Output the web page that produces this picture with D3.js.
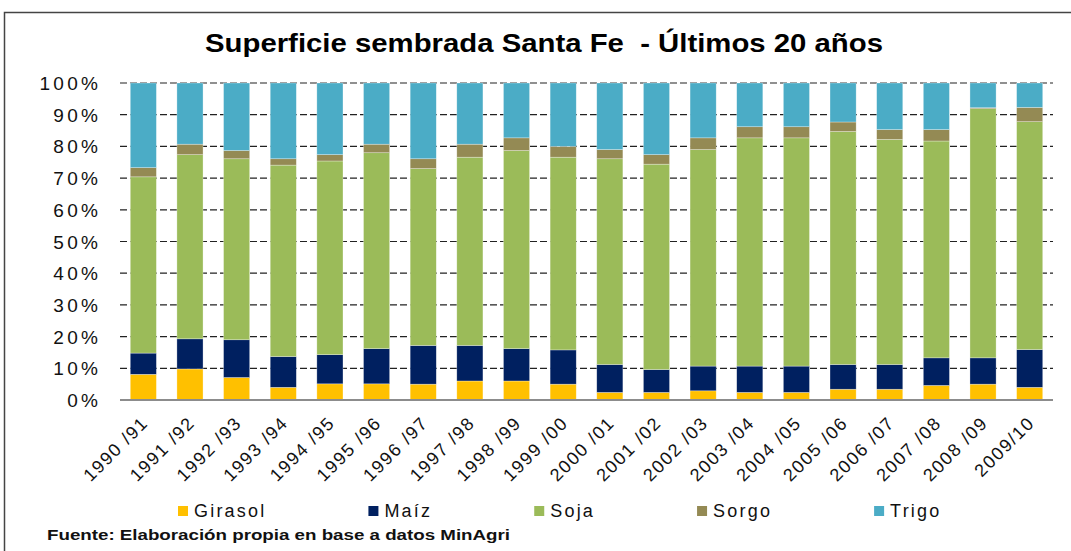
<!DOCTYPE html>
<html>
<head>
<meta charset="utf-8">
<script src="https://cdn.jsdelivr.net/npm/d3@7"></script>
<style>
  body { margin: 0; background: #fff; }
  svg { display: block; font-family: Arial, "Liberation Sans", sans-serif; }
</style>
</head>
<body>
<svg></svg>
<script>
// campaigns and crop shares (% of sown area)
let campaigns = ["1990 /91", "1991 /92", "1992 /93", "1993 /94", "1994 /95", "1995 /96", "1996 /97",
  "1997 /98", "1998 /99", "1999 /00", "2000 /01", "2001 /02", "2002 /03", "2003 /04", "2004 /05",
  "2005 /06", "2006 /07", "2007 /08", "2008 /09", "2009/10"];

let girasol = [8.1, 9.8, 7.1, 4.0, 5.1, 5.1, 5.0, 6.0, 6.0, 5.0, 2.4, 2.4, 2.9, 2.4, 2.4, 3.4, 3.4, 4.6, 5.0, 4.0];
let maiz = [6.7, 9.5, 11.9, 9.7, 9.2, 11.1, 12.2, 11.2, 10.2, 10.8, 8.8, 7.2, 7.8, 8.3, 8.3, 7.8, 7.8, 8.7, 8.3, 11.9];
let soja = [55.6, 58.1, 57.1, 60.4, 61.1, 61.8, 55.8, 59.4, 62.5, 60.8, 64.9, 64.8, 68.3, 72.0, 72.0, 73.5, 71.0, 68.4, 78.6, 71.9];
let sorgo = [2.9, 3.3, 2.6, 2.0, 2.0, 2.7, 3.1, 4.1, 4.0, 3.4, 2.9, 3.0, 3.7, 3.5, 3.5, 3.0, 3.1, 3.6, 0.3, 4.5];
let trigo = [26.7, 19.3, 21.3, 23.9, 22.6, 19.3, 23.9, 19.3, 17.3, 20.0, 21.0, 22.6, 17.3, 13.8, 13.8, 12.3, 14.7, 14.7, 7.8, 7.7];

let crops = ["Girasol", "Maíz", "Soja", "Sorgo", "Trigo"];
let yTicks = [0, 10, 20, 30, 40, 50, 60, 70, 80, 90, 100];

let colors = {
  "Girasol": "#FFC000",
  "Maíz": "#002060",
  "Soja": "#9BBB59",
  "Sorgo": "#948A54",
  "Trigo": "#4BACC6",
};

let W = 1071, H = 551;
let m = { left: 120, right: 1053, top: 83, bottom: 400 };

let svg = d3.select("svg").attr("width", W).attr("height", H);

// outer frame (runs off the right and bottom edges)
svg.append("rect")
  .attr("x", 4.5).attr("y", 12.5)
  .attr("width", W + 20).attr("height", H + 20)
  .attr("fill", "none")
  .attr("stroke", "#444")
  .attr("stroke-width", 1.5);

svg.append("text")
  .attr("x", 544).attr("y", 52)
  .attr("text-anchor", "middle")
  .attr("font-size", 25)
  .attr("font-weight", "bold")
  .attr("textLength", 678)
  .attr("lengthAdjust", "spacingAndGlyphs")
  .attr("fill", "#000")
  .text("Superficie sembrada Santa Fe\u00a0 - Últimos 20 años");

let table = campaigns.map((c, i) => ({
  campaign: c,
  "Girasol": girasol[i],
  "Maíz": maiz[i],
  "Soja": soja[i],
  "Sorgo": sorgo[i],
  "Trigo": trigo[i],
}));

let series = d3.stack().keys(crops)(table);

let x = d3.scaleBand()
  .domain(campaigns)
  .range([m.left, m.right])
  .paddingInner(0.44)
  .paddingOuter(0.22);

let y = d3.scaleLinear().domain([0, 100]).range([m.bottom, m.top]);

// dashed gridlines
svg.append("g")
  .selectAll("line")
  .data(yTicks.filter(d => d > 0))
  .join("line")
  .attr("x1", m.left).attr("x2", m.right)
  .attr("y1", d => y(d)).attr("y2", d => y(d))
  .attr("stroke", "#222")
  .attr("stroke-width", 1.2)
  .attr("stroke-dasharray", "7,3");

// bars
svg.append("g")
  .selectAll("g")
  .data(series)
  .join("g")
  .attr("fill", d => colors[d.key])
  .selectAll("rect")
  .data(d => d)
  .join("rect")
  .attr("x", d => x(d.data.campaign))
  .attr("width", x.bandwidth())
  .attr("y", d => y(d[1]))
  .attr("height", d => y(d[0]) - y(d[1]))
  .attr("stroke", "#fff")
  .attr("stroke-opacity", 0.5)
  .attr("stroke-width", 0.6);

// bottom axis line
svg.append("line")
  .attr("x1", m.left).attr("x2", m.right)
  .attr("y1", m.bottom).attr("y2", m.bottom)
  .attr("stroke", "#8c8c8c")
  .attr("stroke-width", 2);

// y tick labels
svg.append("g")
  .selectAll("text")
  .data(yTicks)
  .join("text")
  .attr("x", 98 + 3.3)
  .attr("y", d => y(d) + 7)
  .attr("text-anchor", "end")
  .attr("font-size", 19)
  .attr("letter-spacing", 3.3)
  .attr("fill", "#111")
  .text(d => d + "%");

// x labels, rotated
svg.append("g")
  .selectAll("text")
  .data(campaigns)
  .join("text")
  .attr("transform", d => `translate(${x(d) + x.bandwidth() / 2 + 6},424) rotate(-45)`)
  .attr("text-anchor", "end")
  .attr("font-size", 18)
  .attr("letter-spacing", 1.6)
  .attr("fill", "#111")
  .text(d => d);

// legend
let legend = svg.append("g");
let lx = 178;
crops.forEach(c => {
  legend.append("rect")
    .attr("x", lx).attr("y", 506)
    .attr("width", 10).attr("height", 10)
    .attr("fill", colors[c]);
  let t = legend.append("text")
    .attr("x", lx + 16).attr("y", 517)
    .attr("font-size", 18)
    .attr("letter-spacing", 2.2)
    .attr("fill", "#111")
    .text(c);
  lx += 16 + t.node().getComputedTextLength() + 102;
});

svg.append("text")
  .attr("x", 47).attr("y", 540)
  .attr("font-size", 14)
  .attr("font-weight", "bold")
  .attr("textLength", 463)
  .attr("lengthAdjust", "spacingAndGlyphs")
  .attr("fill", "#111")
  .text("Fuente: Elaboración propia en base a datos MinAgri");
</script>
</body>
</html>
